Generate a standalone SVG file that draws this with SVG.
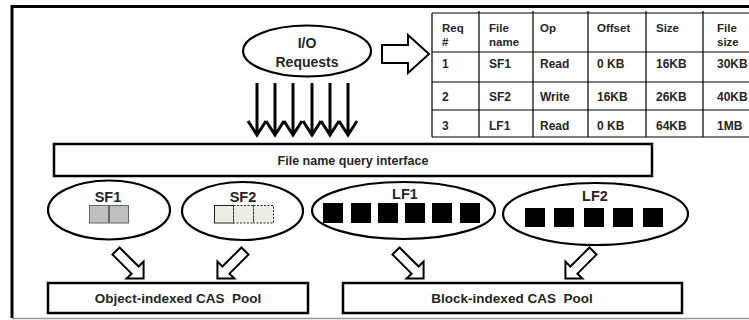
<svg xmlns="http://www.w3.org/2000/svg" width="749" height="320" viewBox="0 0 749 320">
<defs>
<style>
text{font-family:"Liberation Sans",Arial,sans-serif;font-weight:bold;fill:#262626;white-space:pre}
.t{font-size:12px}
.h{font-size:11.5px}
.node{fill:#fff;stroke:#000;stroke-width:2.2}
.box{fill:#fff;stroke:#000;stroke-width:2.5}
.grid{stroke:#000;stroke-width:1.2;fill:none}
.blk{fill:#000}
.down{stroke:#000;stroke-width:3;fill:none}
.open{fill:#fff;stroke:#000;stroke-width:2;stroke-linejoin:miter}
</style>
<polygon id="oa" points="0,-5 27,-5 27,-12 39,0 27,12 27,5 0,5"/>
</defs>
<rect width="749" height="320" fill="#fff"/>
<g id="frame">
<path d="M12,318 V6.5 H749" fill="none" stroke="#000" stroke-width="3"/>
<line x1="12" y1="318.5" x2="749" y2="318.5" stroke="#999" stroke-width="1.5"/>
</g>
<g id="table">
<path class="grid" d="M432,13 H752 M432,52 H752 M432,82 H752 M432,110 H752 M432,137 H752 M432,13 V137 M479,11 V137 M533,11 V137 M588,11 V137 M646,11 V137 M703,11 V137"/>
<text class="h" x="442" y="32">Req</text><text class="h" x="442" y="46">#</text>
<text class="h" x="489" y="32">File</text><text class="h" x="489" y="46">name</text>
<text class="h" x="540" y="32">Op</text>
<text class="h" x="597" y="32">Offset</text>
<text class="h" x="656" y="32">Size</text>
<text class="h" x="717" y="32">File</text><text class="h" x="717" y="46">size</text>
<text class="t" x="442" y="68">1</text><text class="t" x="489" y="68">SF1</text><text class="t" x="540" y="68">Read</text><text class="t" x="597" y="68">0 KB</text><text class="t" x="656" y="68">16KB</text><text class="t" x="717" y="68">30KB</text>
<text class="t" x="442" y="101">2</text><text class="t" x="489" y="101">SF2</text><text class="t" x="540" y="101">Write</text><text class="t" x="597" y="101">16KB</text><text class="t" x="656" y="101">26KB</text><text class="t" x="717" y="101">40KB</text>
<text class="t" x="442" y="130">3</text><text class="t" x="489" y="130">LF1</text><text class="t" x="540" y="130">Read</text><text class="t" x="597" y="130">0 KB</text><text class="t" x="656" y="130">64KB</text><text class="t" x="717" y="130">1MB</text>
</g>
<g id="io">
<ellipse class="node" cx="307" cy="51" rx="64" ry="25.5"/>
<text x="307" y="48" font-size="14" text-anchor="middle">I/O</text>
<text x="307" y="67" font-size="14" text-anchor="middle">Requests</text>
</g>
<g id="query">
<rect class="box" x="54" y="144" width="598" height="32"/>
<text x="353" y="165" font-size="12.5" text-anchor="middle">File name query interface</text>
</g>
<g id="sf1">
<ellipse class="node" cx="109" cy="210" rx="61" ry="29.5"/>
<text x="108" y="202" font-size="14.5" text-anchor="middle">SF1</text>
<rect x="89.5" y="205.5" width="19" height="17.5" fill="#bfbfbf" stroke="#666" stroke-width="1"/>
<rect x="109.5" y="205.5" width="19" height="17.5" fill="#bfbfbf" stroke="#666" stroke-width="1"/>
</g>
<g id="sf2">
<ellipse class="node" cx="242.5" cy="211" rx="60.5" ry="29"/>
<text x="243" y="202" font-size="14.5" text-anchor="middle">SF2</text>
<rect x="214.5" y="205.5" width="19" height="17.5" fill="#ededE3" stroke="#222" stroke-width="1"/>
<rect x="233.5" y="205.5" width="20" height="17.5" fill="#ededE3" stroke="#222" stroke-width="1" stroke-dasharray="2,1.5"/>
<rect x="253.5" y="205.5" width="20" height="17.5" fill="#ededE3" stroke="#222" stroke-width="1" stroke-dasharray="2,1.5"/>
</g>
<g id="lf1">
<ellipse class="node" cx="403.5" cy="210.5" rx="91.5" ry="28.5"/>
<text x="405" y="199" font-size="14.5" text-anchor="middle">LF1</text>
<rect class="blk" x="323" y="203" width="20" height="20"/>
<rect class="blk" x="351" y="203" width="20" height="20"/>
<rect class="blk" x="378" y="203" width="20" height="20"/>
<rect class="blk" x="405" y="203" width="20" height="20"/>
<rect class="blk" x="432" y="203" width="20" height="20"/>
<rect class="blk" x="460" y="203" width="20" height="20"/>
</g>
<g id="lf2">
<ellipse class="node" cx="595.5" cy="214" rx="92.5" ry="31"/>
<text x="595" y="201" font-size="14.5" text-anchor="middle">LF2</text>
<rect class="blk" x="525" y="208" width="20" height="19"/>
<rect class="blk" x="554" y="208" width="20" height="19"/>
<rect class="blk" x="584" y="208" width="20" height="19"/>
<rect class="blk" x="613" y="208" width="20" height="19"/>
<rect class="blk" x="643" y="208" width="20" height="19"/>
</g>
<g id="objpool">
<rect class="box" x="48" y="283" width="260" height="30"/>
<text x="178" y="303" font-size="13.5" text-anchor="middle">Object-indexed CAS  Pool</text>
</g>
<g id="blkpool">
<rect class="box" x="343" y="283" width="339" height="30"/>
<text x="512" y="303" font-size="13.5" text-anchor="middle">Block-indexed CAS  Pool</text>
</g>
<g id="connectors">
<polygon class="open" points="382,45 408,45 408,35 429,54 408,73 408,63 382,63"/>
<path class="down" d="M257,83 V135 M248,121 L257,135 L266,121"/>
<path class="down" d="M275,83 V135 M266,121 L275,135 L284,121"/>
<path class="down" d="M293,83 V135 M284,121 L293,135 L302,121"/>
<path class="down" d="M312,83 V135 M303,121 L312,135 L321,121"/>
<path class="down" d="M330,83 V135 M321,121 L330,135 L339,121"/>
<path class="down" d="M348,83 V135 M339,121 L348,135 L357,121"/>
<use href="#oa" class="open" transform="translate(116,251) rotate(45)"/>
<use href="#oa" class="open" transform="translate(245,251) rotate(135)"/>
<use href="#oa" class="open" transform="translate(396,251) rotate(45)"/>
<use href="#oa" class="open" transform="translate(593,251) rotate(135)"/>
</g>
</svg>
